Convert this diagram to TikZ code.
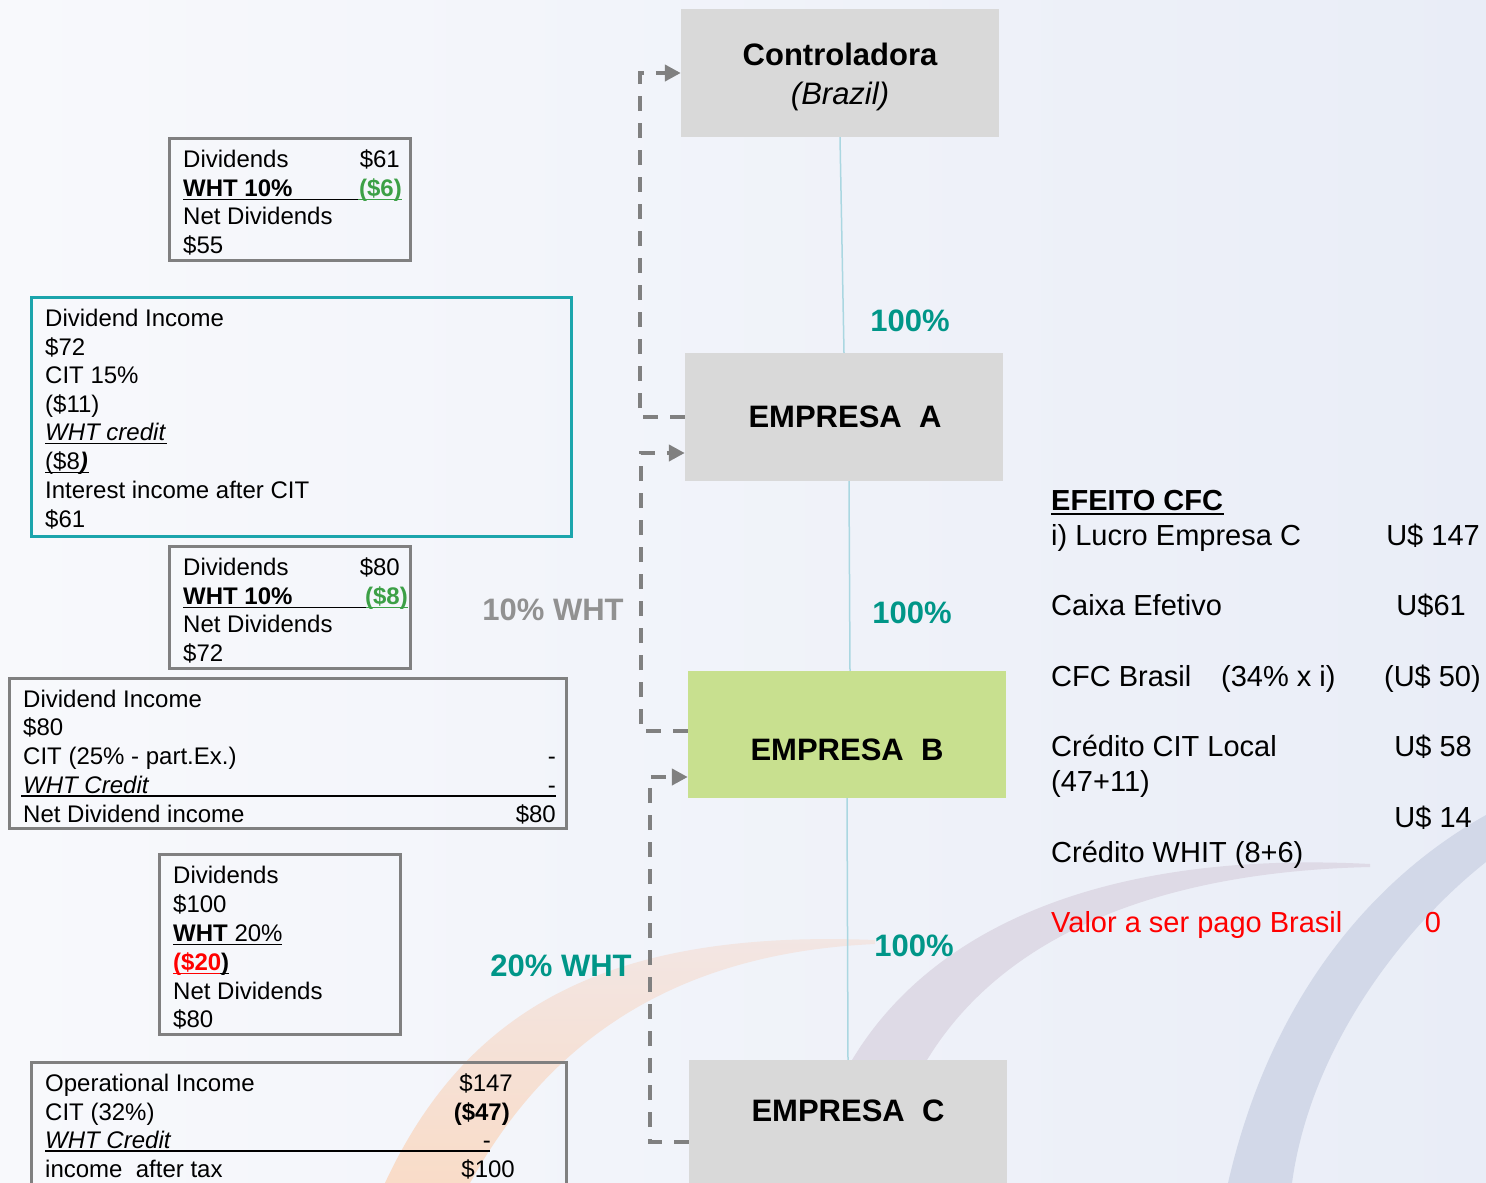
\documentclass[tikz,border=0pt]{standalone}
\usepackage{fontspec}
\setmainfont{Liberation Sans}
\usetikzlibrary{arrows.meta,calc}
\definecolor{bgL}{RGB}{248,249,252}
\definecolor{bgR}{RGB}{233,237,247}
\definecolor{boxgray}{RGB}{128,128,128}
\definecolor{tealb}{RGB}{28,165,172}
\definecolor{tealt}{RGB}{0,150,136}
\definecolor{mygreen}{RGB}{60,160,70}
\definecolor{cfill}{RGB}{217,217,217}
\definecolor{bfill}{RGB}{200,224,143}
\definecolor{thinline}{RGB}{170,215,225}
\definecolor{dashc}{RGB}{128,128,128}
\definecolor{whtgray}{RGB}{145,145,145}
\definecolor{orarc}{RGB}{249,220,200}
\definecolor{orarcL}{RGB}{242,230,228}
\definecolor{mvarc}{RGB}{222,218,230}
\definecolor{blarc}{RGB}{210,216,232}
\definecolor{myred}{RGB}{255,0,0}
\tikzset{
  bt/.style={font=\fontsize{24}{28.7}\selectfont, inner sep=0pt, anchor=base west},
  btr/.style={bt, anchor=base east},
  rt/.style={font=\fontsize{29}{34}\selectfont, inner sep=0pt, anchor=base west},
  rtr/.style={rt, anchor=base east},
  graybox/.style={draw=boxgray, line width=3pt, inner sep=0pt, anchor=north west},
  tealbox/.style={draw=tealb, line width=3pt, inner sep=0pt, anchor=north west},
  cbox/.style={fill=cfill, inner sep=0pt, minimum width=318pt},
  ctext/.style={font=\fontsize{31}{36}\selectfont\bfseries, inner sep=0pt},
  pct/.style={font=\fontsize{31}{36}\selectfont\bfseries, text=tealt, inner sep=0pt, anchor=base},
  dashconn/.style={draw=dashc, line width=4pt, dash pattern=on 15pt off 12pt},
  thin/.style={draw=thinline, line width=1.5pt},
  ul/.style={line width=1.5pt}
}
\begin{document}
\begin{tikzpicture}[x=1pt,y=-1pt]
\useasboundingbox (0,0) rectangle (1486,1183);
% background
\shade[left color=bgL, right color=bgR] (0,0) rectangle (1486,1183);
% decorative arcs
\shade[top color=orarcL, bottom color=orarc] (385,1183) .. controls (470,1000) and (620,930) .. (875,940)
  -- (875,944) .. controls (700,952) and (560,1020) .. (470,1183) -- cycle;
\fill[mvarc] (820,1183) -- (852,1060) .. controls (930,930) and (1100,850) .. (1370,864)
  -- (1370,867) .. controls (1150,872) and (1000,940) .. (927,1060) -- (900,1183) -- cycle;
\fill[blarc] (1228,1183) .. controls (1270,1000) and (1370,880) .. (1486,815)
  -- (1486,862) .. controls (1400,930) and (1310,1050) .. (1292,1183) -- cycle;

% company boxes
\node[cbox, minimum height=128pt] (ctrl) at (840,73) {};
\node[ctext, anchor=base] (ctrlt) at (840,65) {Controladora};
\node[ctext, anchor=base, font=\fontsize{31}{36}\selectfont\itshape] (ctrlb) at (840,104) {(Brazil)};
\node[cbox, minimum height=128pt] (A) at (844,417) {};
\node[ctext] (At) at (845,417) {EMPRESA\ \ A};
\node[cbox, fill=bfill, minimum height=127pt] (B) at (847,734.5) {};
\node[ctext] (Bt) at (847,750) {EMPRESA\ \ B};
\node[cbox, minimum height=128pt] (C) at (848,1124) {};
\node[ctext] (Ct) at (848,1111) {EMPRESA\ \ C};

% thin ownership lines
\draw[thin] (ctrl.south) -- (A.north);
\draw[thin] ([xshift=5pt]A.south) -- ([xshift=3pt]B.north);
\draw[thin] (B.south) -- (C.north);

% dashed dividend flows
\draw[dashconn, -{Triangle[length=16pt,width=16pt]}] (A.west) -- ++(-45,0) |- (ctrl.west);
\draw[dashconn, -{Triangle[length=16pt,width=16pt]}] ([yshift=3.5pt]B.west) -- ++(-47,0) |- ([yshift=-36pt]A.west);
\draw[dashconn, -{Triangle[length=16pt,width=16pt]}] ([yshift=-18pt]C.west) -- ++(-39,0) |- ([yshift=-42.5pt]B.west);

% percentages
\node[pct] (p1) at (910,331) {100\%};
\node[pct] (p2) at (912,623) {100\%};
\node[pct] (p3) at (914,956) {100\%};
\node[pct, text=whtgray] (w10) at (553,620) {10\% WHT};
\node[pct] (w20) at (561,976) {20\% WHT};

% Box 1
\node[graybox, minimum width=241pt, minimum height=122pt] (b1) at (168,137) {};
\node[bt] (b1a) at (183,167.6) {Dividends};
\node[btr] (b1b) at (400,167.6) {\$61};
\node[bt] (b1c) at (183,196.6) {\textbf{WHT 10\%}};
\node[btr, text=mygreen] (b1d) at (402,196.6) {\textbf{(\$6)}};
\draw[ul] (183,199.5) -- (358,199.5);
\draw[ul, mygreen] (358,199.5) -- (402,199.5);
\node[bt] (b1e) at (183,224.6) {Net Dividends};
\node[bt] (b1f) at (183,253.6) {\$55};

% Box 2
\node[tealbox, minimum width=540pt, minimum height=239pt] (b2) at (30,296) {};
\node[bt] (b2a) at (45,326.6) {Dividend Income};
\node[bt] (b2b) at (45,355.6) {\$72};
\node[bt] (b2c) at (45,383.6) {CIT 15\%};
\node[bt] (b2d) at (45,412.6) {(\$11)};
\node[bt] (b2e) at (45,440.6) {\textit{WHT credit}};
\draw[ul] (45,443.5) -- (167,443.5);
\node[bt] (b2f) at (45,469.6) {(\$8\textbf{\textit{)}}};
\draw[ul] (45,472.5) -- (89,472.5);
\node[bt] (b2g) at (45,498.6) {Interest income after CIT};
\node[bt] (b2h) at (45,527.6) {\$61};

% Box 3
\node[graybox, minimum width=241pt, minimum height=122pt] (b3) at (168,545) {};
\node[bt] (b3a) at (183,575.6) {Dividends};
\node[btr] (b3b) at (400,575.6) {\$80};
\node[bt] (b3c) at (183,604.6) {\textbf{WHT 10\%}};
\node[btr, text=mygreen] (b3d) at (408,604.6) {\textbf{(\$8)}};
\draw[ul] (183,607.5) -- (366,607.5);
\draw[ul, mygreen] (366,607.5) -- (408,607.5);
\node[bt] (b3e) at (183,632.6) {Net Dividends};
\node[bt] (b3f) at (183,661.6) {\$72};

% Box 4
\node[graybox, minimum width=557pt, minimum height=150pt] (b4) at (8,677) {};
\node[bt] (b4a) at (23,707.6) {Dividend Income};
\node[bt] (b4b) at (23,735.6) {\$80};
\node[bt] (b4c) at (23,764.6) {CIT (25\% - part.Ex.)};
\node[btr] (b4d) at (556,764.6) {-};
\node[bt] (b4e) at (23,793.6) {\textit{WHT Credit}};
\node[btr] (b4f) at (556,793.6) {-};
\draw[ul] (21,796) -- (556,796);
\node[bt] (b4g) at (23,822.6) {Net Dividend income};
\node[btr] (b4h) at (556,822.6) {\$80};

% Box 5
\node[graybox, minimum width=241pt, minimum height=180pt] (b5) at (158,853) {};
\node[bt] (b5a) at (173,883.6) {Dividends};
\node[bt] (b5b) at (173,912.6) {\$100};
\node[bt] (b5c) at (173,941.6) {\textbf{WHT} 20\%};
\draw[ul] (173,944.5) -- (282,944.5);
\node[bt] (b5d) at (173,970.6) {\textbf{\textcolor{myred}{(\$20})}};
\draw[ul, myred] (173,973.5) -- (220,973.5);
\draw[ul] (220,973.5) -- (229,973.5);
\node[bt] (b5e) at (173,999.6) {Net Dividends};
\node[bt] (b5f) at (173,1027.6) {\$80};

% Box 6
\node[graybox, minimum width=535pt, minimum height=140pt] (b6) at (30,1061) {};
\node[bt] (b6a) at (45,1091.6) {Operational Income};
\node[btr] (b6b) at (513,1091.6) {\$147};
\node[bt] (b6c) at (45,1120.6) {CIT (32\%)};
\node[btr] (b6d) at (510,1120.6) {\textbf{(\$47)}};
\node[bt] (b6e) at (45,1148.6) {\textit{WHT Credit}};
\node[btr] (b6f) at (491,1148.6) {-};
\draw[ul] (45,1151) -- (490,1151);
\node[bt] (b6g) at (45,1177.6) {income\ \ after tax};
\node[btr] (b6h) at (515,1177.6) {\$100};

% Right text block
\node[rt] (r0) at (1051,510) {\textbf{EFEITO CFC}};
\draw[line width=2pt] (1051,514) -- (1224,514);
\node[rt] (r1) at (1051,545) {i) Lucro Empresa C};
\node[rtr] (r1v) at (1480,545) {U\$ 147};
\node[rt] (r2) at (1051,615) {Caixa Efetivo};
\node[rtr] (r2v) at (1466,615) {U\$61};
\node[rt] (r3) at (1051,686) {CFC Brasil};
\node[rt] (r3b) at (1221,686) {(34\% x i)};
\node[rtr] (r3v) at (1481,686) {(U\$ 50)};
\node[rt] (r4) at (1051,756) {Crédito CIT Local};
\node[rtr] (r4v) at (1472,756) {U\$ 58};
\node[rt] (r4b) at (1051,791) {(47+11)};
\node[rtr] (r5v) at (1472,827) {U\$ 14};
\node[rt] (r5) at (1051,862) {Crédito WHIT (8+6)};
\node[rt, text=myred] (r6) at (1051,932) {Valor a ser pago Brasil};
\node[rt, text=myred, anchor=base] (r6v) at (1433,932) {0};
\end{tikzpicture}
\end{document}
